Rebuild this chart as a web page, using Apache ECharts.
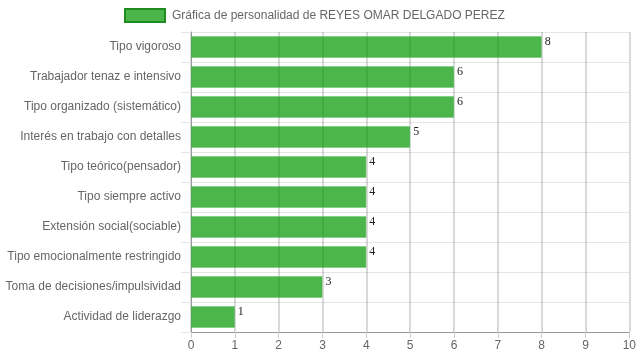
<!DOCTYPE html>
<html><head><meta charset="utf-8">
<script src="https://cdn.jsdelivr.net/npm/echarts@6/dist/echarts.min.js"></script>
<style>html,body{margin:0;padding:0;background:#fff}#c{width:639px;height:360px}</style>
</head><body><div id="c"></div>
<script>
const categories = ["Tipo vigoroso","Trabajador tenaz e intensivo","Tipo organizado (sistemático)","Interés en trabajo con detalles","Tipo teórico(pensador)","Tipo siempre activo","Extensión social(sociable)","Tipo emocionalmente restringido","Toma de decisiones/impulsividad","Actividad de liderazgo"];
const values = [8,6,6,5,4,4,4,4,3,1];
const seriesName = "Gráfica de personalidad de REYES OMAR DELGADO PEREZ";
const xTicks = [0,10,1];

const chart = echarts.init(document.getElementById('c'), null, {renderer:'canvas'});
chart.setOption({
  animation:false,
  textStyle:{fontFamily:'Liberation Sans, Arial, sans-serif'},
  legend:{
    top:8, left:124, padding:0,
    icon:'rect',
    itemWidth:40, itemHeight:13, itemGap:8,
    textStyle:{color:'#666', fontSize:12, fontFamily:'Liberation Sans, Arial', padding:[0,0,0,2]},
    itemStyle:{color:'#4CB54C', borderColor:'#1E8C1E', borderWidth:2},
    data:[seriesName]
  },
  grid:{left:191, right:9, top:32, bottom:28, containLabel:false},
  xAxis:{
    type:'value', min:xTicks[0], max:xTicks[1], interval:xTicks[2],
    axisLine:{show:true, lineStyle:{color:'#999'}},
    axisTick:{show:true, length:6, lineStyle:{color:'#ccc'}},
    axisLabel:{color:'#666', fontSize:12, margin:8},
    splitLine:{show:true, lineStyle:{color:'rgba(0,0,0,0.2)', width:1.5}}
  },
  yAxis:{
    type:'category', inverse:true, data:categories,
    axisLine:{show:true, lineStyle:{color:'#999'}},
    axisTick:{show:true, length:10, lineStyle:{color:'#e5e5e5'}},
    axisLabel:{color:'#666', fontSize:12, margin:10},
    splitLine:{show:true, lineStyle:{color:'#e5e5e5'}}
  },
  series:[{
    name:seriesName, type:'bar', data:values,
    barCategoryGap:'28%',
    itemStyle:{color:'rgba(0,150,0,0.7)', borderColor:'rgba(60,180,60,0.6)', borderWidth:1},
    label:{show:true, position:'right', distance:3, offset:[0,-5],
      color:'#222', fontSize:12, fontFamily:'Liberation Serif, Times New Roman, serif'}
  }]
});
</script></body></html>
